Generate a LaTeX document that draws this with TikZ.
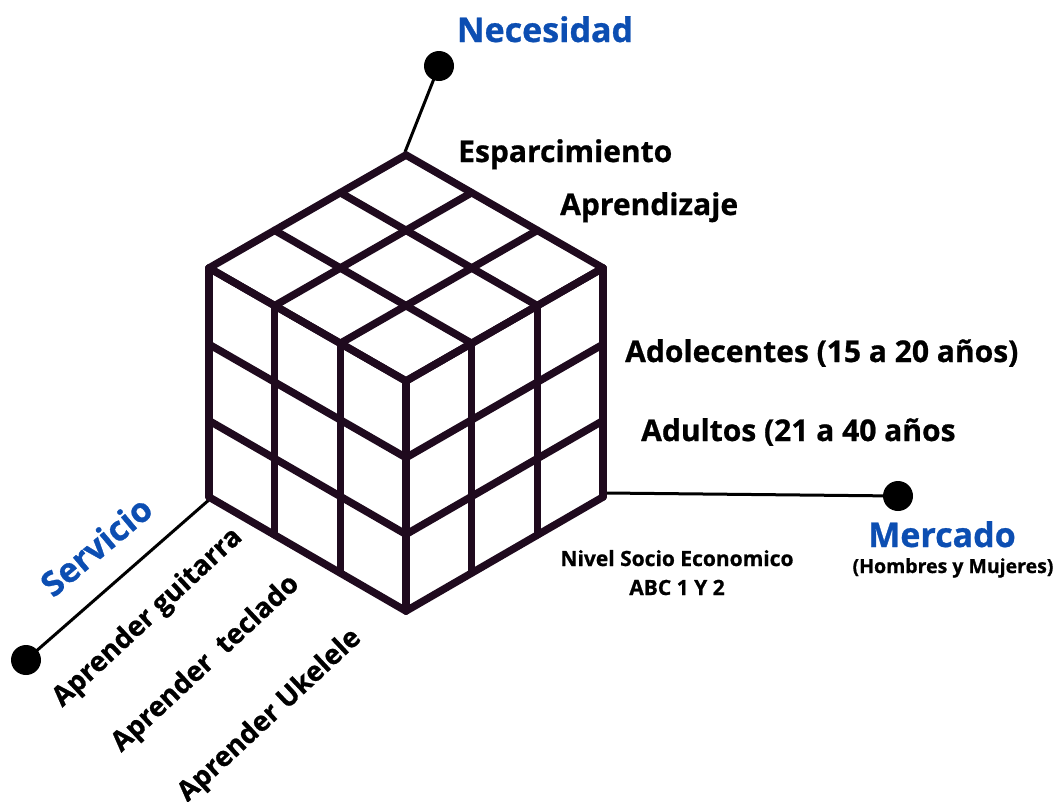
\documentclass[tikz,border=0pt]{standalone}
\usepackage{fontspec}
\setmainfont{Open Sans}[BoldFeatures={FakeBold=0.8}]
\usetikzlibrary{calc}
\definecolor{cubeline}{HTML}{1F0A1E}
\definecolor{titleblue}{HTML}{0C4EB2}
\tikzset{
  cubestroke/.style={draw=cubeline, line width=7.5pt, line cap=round, line join=round},
  connector/.style={draw=black, line width=3pt},
  enddot/.style={circle, fill=black, minimum size=30pt, inner sep=0pt},
  title/.style={font=\fontsize{34}{36}\selectfont\bfseries, text=titleblue, inner sep=0pt},
  label/.style={font=\fontsize{30}{32}\selectfont\bfseries, text=black, inner sep=0pt},
  sidelabel/.style={font=\fontsize{27.5}{29}\selectfont\bfseries, text=black, inner sep=0pt},
  smalllabel/.style={font=\fontsize{21}{23}\selectfont\bfseries, text=black, inner sep=0pt},
  tinylabel/.style={font=\fontsize{19.5}{21}\selectfont\bfseries, text=black, inner sep=0pt},
}
\begin{document}
\begin{tikzpicture}[x=1pt,y=-1pt]
\useasboundingbox (0,0) rectangle (1059,801);
% cube corners
\coordinate (T) at (406,155);
\coordinate (L) at (209,268);
\coordinate (R) at (603,268);
\coordinate (C) at (406,381);
\coordinate (LB) at (209,497);
\coordinate (RB) at (603,497);
\coordinate (B) at (406,611);
% connectors and dots
\node[enddot] (ndot) at (439,66) {};
\node[enddot] (mdot) at (898,496) {};
\node[enddot] (sdot) at (26,660) {};
\coordinate (Ttip) at (405,152);
\coordinate (Rtip) at (607,493);
\coordinate (Ltip) at (210,499);
\draw[connector] (Ttip) -- (ndot.center);
\draw[connector] (Rtip) -- (mdot.center);
\draw[connector] (Ltip) -- (sdot.center);
% cube grid
\foreach \i in {0,1,2,3}{
  \draw[cubestroke] ($(T)!\i/3!(L)$) -- ($(R)!\i/3!(C)$);
  \draw[cubestroke] ($(T)!\i/3!(R)$) -- ($(L)!\i/3!(C)$);
  \draw[cubestroke] ($(L)!\i/3!(C)$) -- ($(LB)!\i/3!(B)$);
  \draw[cubestroke] ($(L)!\i/3!(LB)$) -- ($(C)!\i/3!(B)$);
  \draw[cubestroke] ($(C)!\i/3!(R)$) -- ($(B)!\i/3!(RB)$);
  \draw[cubestroke] ($(C)!\i/3!(B)$) -- ($(R)!\i/3!(RB)$);
}
% texts
\node[title, anchor=base] (nec) at (545,42) {Necesidad};
\node[label, anchor=base west] (esp) at (458,162) {Esparcimiento};
\node[label, anchor=base west] (apr) at (560,215) {Aprendizaje};
\node[label, anchor=base west] (ado) at (625,362) {Adolecentes (15 a 20 años)};
\node[label, anchor=base west] (adu) at (641,441) {Adultos (21 a 40 años};
\node[smalllabel, anchor=base] (niv) at (677,566) {Nivel Socio Economico};
\node[smalllabel, anchor=base] (abc) at (677,595) {ABC 1 Y 2};
\node[title, anchor=base] (mer) at (942,547) {Mercado};
\node[tinylabel, anchor=base] (hom) at (953,573) {(Hombres y Mujeres)};
\node[title, rotate=40] (ser) at (96,546) {Servicio};
\node[sidelabel, rotate=43] (gui) at (148,618) {Aprender guitarra};
\node[sidelabel, rotate=43] (tec) at (206,664) {Aprender\ \ teclado};
\node[sidelabel, rotate=43] (uke) at (270,716) {Aprender Ukelele};
\end{tikzpicture}
\end{document}
